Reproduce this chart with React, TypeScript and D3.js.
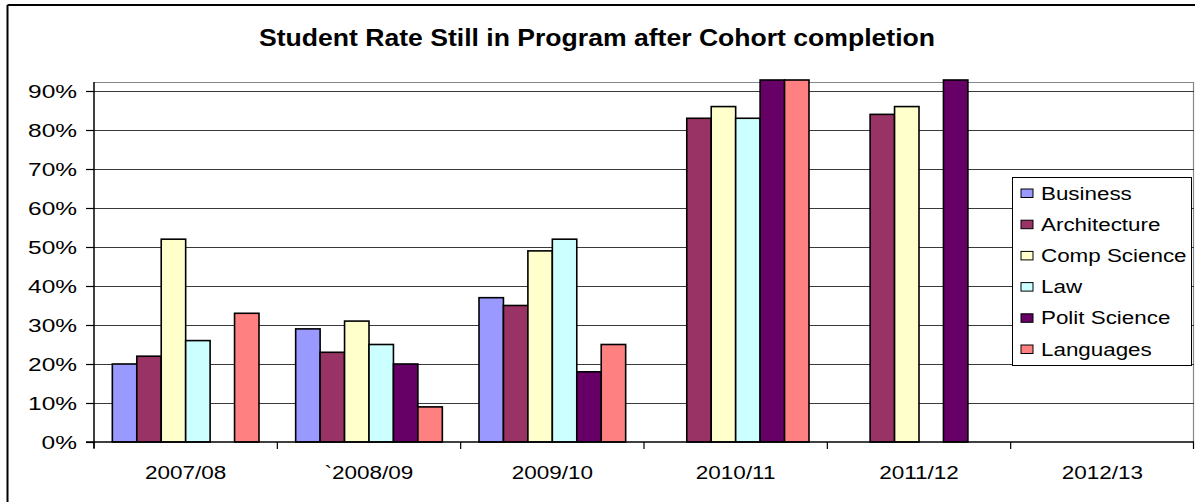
import React from "react";
import * as d3 from "d3";

const categories = ["2007/08", "`2008/09", "2009/10", "2010/11", "2011/12", "2012/13"];
const seriesNames = ["Business", "Architecture", "Comp Science", "Law", "Polit Science", "Languages"];
const seriesColors = ["#9999FF", "#993366", "#FFFFCC", "#CCFFFF", "#660066", "#FF8080"];
// values in percent; null = no bar
const business: (number | null)[] = [20, 29, 37, null, null, null];
const architecture: (number | null)[] = [22, 23, 35, 83, 84, null];
const compScience: (number | null)[] = [52, 31, 49, 86, 86, null];
const law: (number | null)[] = [26, 25, 52, 83, null, null];
const politScience: (number | null)[] = [null, 20, 18, 100, 100, null];
const languages: (number | null)[] = [33, 9, 25, 100, null, null];
const yTicks = [0, 10, 20, 30, 40, 50, 60, 70, 80, 90];
const title = "Student Rate Still in Program after Cohort completion";

const seriesValues = [business, architecture, compScience, law, politScience, languages];

export default function App() {
  const W = 1195, H = 502;
  const left = 94, right = 1194, top = 82, bottom = 442;
  const yMax = 92.3;
  const y = d3.scaleLinear().domain([0, yMax]).range([bottom, top]);
  const x0 = d3.scaleBand<string>().domain(categories).range([left, right]).paddingInner(0).paddingOuter(0);
  const x1 = d3.scaleBand<string>().domain(seriesNames).range([0, x0.bandwidth()]).paddingInner(0).paddingOuter(0.75);
  const font = "Arial, 'Liberation Sans', sans-serif";

  const stretched = (key: string, tx: number, ty: number, txt: string, size: number, anchor: string, sx: number) => (
    <text key={key} transform={`translate(${tx},${ty}) scale(${sx},1)`} fontSize={size} fontFamily={font} textAnchor={anchor} fill="#000">
      {txt}
    </text>
  );

  const legendX = 1012, legendY = 177, legendW = 179, legendH = 188;
  const rowY0 = 193, rowStep = 31.2;

  return (
    <svg width={W} height={H} style={{ position: "absolute", left: 0, top: 0, background: "#fff" }}>
      <rect x={0} y={0} width={W} height={H} fill="#fff" />
      {/* outer border */}
      <line x1={7.5} y1={5} x2={7.5} y2={H} stroke="#000" strokeWidth={2} />
      <line x1={7.5} y1={5} x2={W} y2={5} stroke="#000" strokeWidth={2} />
      {/* title */}
      <text x={259} y={46} fontSize={23} fontWeight="bold" fontFamily={font} textLength={676} lengthAdjust="spacingAndGlyphs">
        {title}
      </text>
      {/* plot frame */}
      <line x1={left} y1={top + 0.5} x2={right} y2={top + 0.5} stroke="#888" strokeWidth={1.2} />
      <line x1={right - 0.5} y1={top} x2={right - 0.5} y2={bottom} stroke="#888" strokeWidth={1.2} />
      {/* gridlines */}
      {yTicks.filter((t) => t > 0).map((t) => (
        <line key={"g" + t} x1={left} x2={right} y1={Math.round(y(t)) + 0.5} y2={Math.round(y(t)) + 0.5} stroke="#3a3a3a" strokeWidth={1.2} />
      ))}
      {/* bars */}
      {categories.map((c, ci) => (
        <g key={"c" + ci} transform={`translate(${x0(c)},0)`}>
          {seriesNames.map((s, si) => {
            const v = seriesValues[si][ci];
            if (v == null) return null;
            const vv = Math.min(v, yMax);
            const yy = y(vv) - (v > yMax ? 2 : 0);
            return (
              <rect key={s} x={x1(s)} y={yy} width={x1.bandwidth()} height={bottom - yy} fill={seriesColors[si]} stroke="#000" strokeWidth={1.6} />
            );
          })}
        </g>
      ))}
      {/* axes */}
      <line x1={left} y1={top} x2={left} y2={bottom + 6} stroke="#000" strokeWidth={1.5} />
      <line x1={left - 8} y1={bottom} x2={right} y2={bottom} stroke="#000" strokeWidth={1.5} />
      {yTicks.map((t) => (
        <g key={"yt" + t}>
          <line x1={left - 8} x2={left} y1={Math.round(y(t)) + 0.5} y2={Math.round(y(t)) + 0.5} stroke="#000" strokeWidth={1.2} />
          {stretched("yl" + t, 77, y(t) + 7, `${t}%`, 17.5, "end", 1.4)}
        </g>
      ))}
      {categories.map((c, ci) => (
        <line key={"xt" + ci} x1={x0(c)!} x2={x0(c)!} y1={bottom} y2={bottom + 7} stroke="#000" strokeWidth={1.2} />
      ))}
      <line x1={right - 0.5} x2={right - 0.5} y1={bottom} y2={bottom + 7} stroke="#000" strokeWidth={1.2} />
      {categories.map((c, ci) => stretched("xl" + ci, x0(c)! + x0.bandwidth() / 2, 479, c, 18, "middle", 1.25))}
      {/* legend */}
      <rect x={legendX + 0.5} y={legendY + 0.5} width={legendW} height={legendH} fill="#fff" stroke="#000" strokeWidth={1} />
      {seriesNames.map((s, si) => {
        const cy = rowY0 + si * rowStep;
        return (
          <g key={"lg" + si}>
            <rect x={1021} y={cy - 4} width={12} height={8.5} fill={seriesColors[si]} stroke="#000" strokeWidth={1} />
            {stretched("lt" + si, 1041, cy + 6.5, s, 17.5, "start", 1.28)}
          </g>
        );
      })}
    </svg>
  );
}
